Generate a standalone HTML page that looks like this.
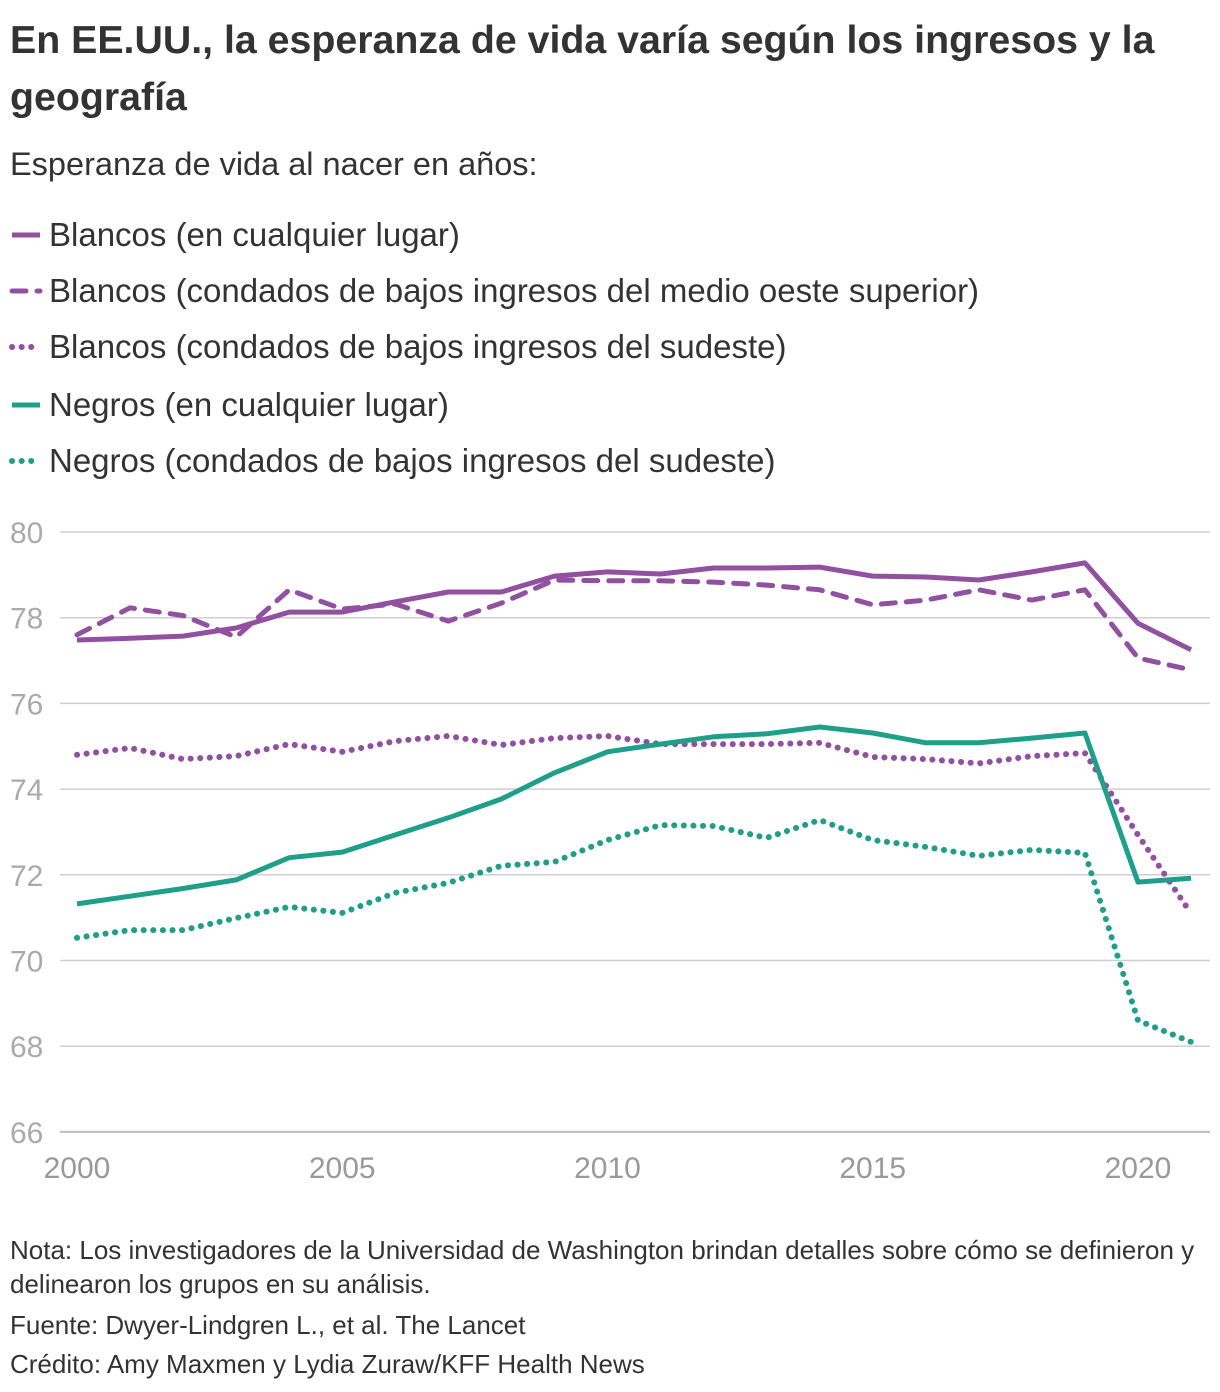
<!DOCTYPE html>
<html><head><meta charset="utf-8">
<style>
body{margin:0;background:#fff;font-family:"Liberation Sans",sans-serif;color:#333;}
#wrap{position:relative;width:1220px;height:1392px;overflow:hidden}
.t{position:absolute;left:10px;white-space:nowrap}
</style></head><body>
<div id="wrap">
<div class="t" style="top:12px;font-size:39.3px;font-weight:bold;line-height:57px;color:#333">En EE.UU., la esperanza de vida varía según los ingresos y la<br>geografía</div>
<div class="t" style="top:146px;font-size:32.5px;color:#333">Esperanza de vida al nacer en años:</div>
<svg id="chart" width="1220" height="1392" style="position:absolute;left:0;top:0"></svg>
<div class="t" style="top:1233px;font-size:26px;line-height:34px;color:#333">Nota: Los investigadores de la Universidad de Washington brindan detalles sobre cómo se definieron y<br>delinearon los grupos en su análisis.</div>
<div class="t" style="top:1310px;font-size:26px;color:#333">Fuente: Dwyer-Lindgren L., et al. The Lancet</div>
<div class="t" style="top:1349px;font-size:26px;color:#333">Crédito: Amy Maxmen y Lydia Zuraw/KFF Health News</div>
</div>
<script>
const years=[2000,2001,2002,2003,2004,2005,2006,2007,2008,2009,2010,2011,2012,2013,2014,2015,2016,2017,2018,2019,2020,2021];
const whiteAll=[77.48,77.52,77.57,77.76,78.13,78.13,78.37,78.6,78.6,78.97,79.07,79.02,79.16,79.16,79.18,78.97,78.95,78.88,79.07,79.28,77.87,77.25];
const whiteMidwest=[77.6,78.23,78.05,77.55,78.65,78.2,78.32,77.92,78.34,78.88,78.86,78.86,78.83,78.76,78.65,78.3,78.41,78.65,78.41,78.65,77.06,76.78];
const whiteSoutheast=[74.8,74.96,74.7,74.77,75.05,74.87,75.12,75.24,75.03,75.19,75.24,75.05,75.05,75.05,75.08,74.75,74.7,74.6,74.77,74.84,72.93,71.1];
const blackAll=[71.32,71.5,71.68,71.88,72.4,72.53,72.93,73.33,73.77,74.38,74.87,75.05,75.22,75.29,75.45,75.31,75.08,75.08,75.19,75.31,71.83,71.92];
const blackSoutheast=[70.53,70.71,70.71,70.99,71.25,71.11,71.58,71.81,72.21,72.3,72.81,73.16,73.14,72.86,73.28,72.81,72.65,72.44,72.58,72.51,68.6,68.1];
const yTicks=[66,68,70,72,74,76,78,80];
const xTicks=[2000,2005,2010,2015,2020];
const seriesNames=["Blancos (en cualquier lugar)","Blancos (condados de bajos ingresos del medio oeste superior)","Blancos (condados de bajos ingresos del sudeste)","Negros (en cualquier lugar)","Negros (condados de bajos ingresos del sudeste)"];

const P="#9150a0",G="#1f9e89";
const styles=[{c:P,d:"",w:5},{c:P,d:"14 11",w:5},{c:P,d:"0.1 9.5",w:6},{c:G,d:"",w:5},{c:G,d:"0.1 9.5",w:6}];
const data=[whiteAll,whiteMidwest,whiteSoutheast,blackAll,blackSoutheast];
const ns="http://www.w3.org/2000/svg";
const svg=document.getElementById('chart');
const x=v=>77+(v-2000)*53.05;
const y=v=>532+(80-v)*42.85;
function mk(t,a){const e=document.createElementNS(ns,t);for(const k in a)e.setAttribute(k,a[k]);svg.appendChild(e);return e;}
yTicks.forEach(t=>{
  const l=mk('line',{x1:60,x2:1210,y1:y(t),y2:y(t),stroke:t===66?'#bbb':'#cfcfcf','stroke-width':t===66?2:1.5});
  
  
  const tx=mk('text',{x:10,y:y(t)+11,'font-size':30,fill:'#aaa','font-family':'Liberation Sans, sans-serif'});
  tx.textContent=t;
  
  
});
xTicks.forEach(t=>{
  const tx=mk('text',{x:x(t),y:1178,'font-size':30,fill:'#999','text-anchor':'middle','font-family':'Liberation Sans, sans-serif'});
  tx.textContent=t;
  
  
});
data.forEach((s,i)=>{
  const pts=s.map((v,j)=>x(years[j]).toFixed(1)+','+y(v).toFixed(1)).join(' ');
  const pl=mk('polyline',{points:pts,fill:'none',stroke:styles[i].c,'stroke-width':styles[i].w,'stroke-linecap':styles[i].d?'round':'butt','stroke-linejoin':'round','stroke-dasharray':styles[i].d});
  
  
  const ly=235+[0,56,112,170,226][i];
  const sw=mk('line',{x1:12,x2:40,y1:ly,y2:ly,stroke:styles[i].c,'stroke-width':styles[i].w,'stroke-linecap':styles[i].d?'round':'butt','stroke-dasharray':styles[i].d});
  
  
  const lt=mk('text',{x:49,y:ly+11,'font-size':33,fill:'#333','font-family':'Liberation Sans, sans-serif'});
  lt.textContent=seriesNames[i];
  
  
});
</script>
</body></html>
